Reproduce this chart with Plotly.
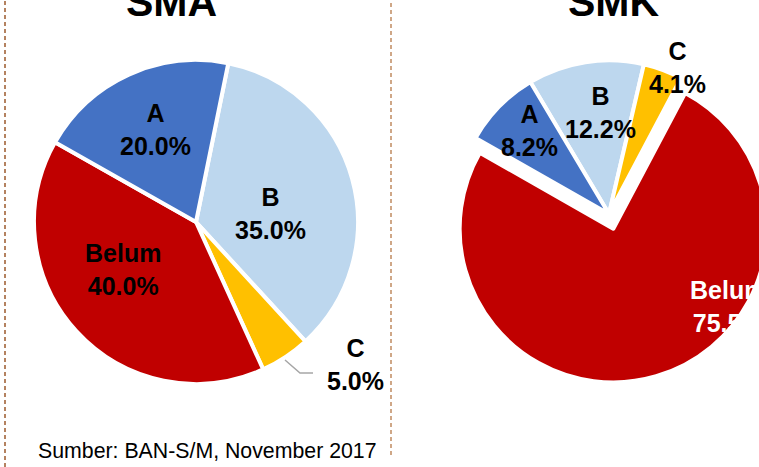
import math
import plotly.graph_objects as go

# ---- data ----
labels = ["B", "C", "Belum", "A"]
sma_values = [35.0, 5.0, 40.0, 20.0]
smk_values = [12.2, 4.1, 75.5, 8.2]
slice_colors = ["#BDD7EE", "#FFC000", "#C00000", "#4472C4"]
titles = ["SMA", "SMK"]
source_text = "Sumber: BAN-S/M, November 2017"

W, H = 800, 467
FONT = "Liberation Sans, Arial, sans-serif"


def px_x(x):
    return x / W


def px_y(y):
    return 1 - y / H


pies = [
    dict(values=sma_values, rotation=11.5, pull=[0, 0, 0, 0],
         box=(34, 60, 358, 384), text_colors=["black"] * 4,
         lab_r=[0.46, 1.32, 0.54, 0.62], lab_off=[9, -14.6, 9.5, 1]),
    dict(values=smk_values, rotation=-30.8, pull=[0, 0, 0.1, 0],
         box=(440, 45, 778, 383), text_colors=["black", "black", "white", "black"],
         lab_r=[0.66, 1.05, 0.9, 0.75], lab_off=[3.8, 4.5, -39.8, 2]),
]

fig = go.Figure()
annotations = []

for p in pies:
    x0, y0, x1, y1 = p["box"]
    fig.add_trace(go.Pie(
        labels=labels, values=p["values"], sort=False, direction="clockwise",
        rotation=p["rotation"], pull=p["pull"],
        marker=dict(colors=slice_colors, line=dict(color="white", width=4)),
        textinfo="none",
        domain=dict(x=[px_x(x0), px_x(x1)], y=[px_y(y1), px_y(y0)]),
        showlegend=False, hoverinfo="skip",
    ))
    # label placement derived from the slice angles
    cx, cy = (x0 + x1) / 2, (y0 + y1) / 2
    r = min(x1 - x0, y1 - y0) / 2 / (1 + max(p["pull"]))
    total = sum(p["values"])
    cum = 0
    for i, v in enumerate(p["values"]):
        mid = p["rotation"] + (cum + v / 2) / total * 360
        cum += v
        a = math.radians(mid)
        px = cx + p["pull"][i] * r * math.sin(a)
        py = cy - p["pull"][i] * r * math.cos(a)
        b = math.radians(mid + p["lab_off"][i])
        px += p["lab_r"][i] * r * math.sin(b)
        py -= p["lab_r"][i] * r * math.cos(b)
        pct = v / total * 100
        annotations.append(dict(
            text="<b>%s</b><br><b>%.1f%%</b>" % (labels[i], pct),
            x=px_x(px), y=px_y(py), xref="paper", yref="paper",
            xanchor="center", yanchor="middle", showarrow=False,
            font=dict(family=FONT, size=25, color=p["text_colors"][i]),
        ))

annotations += [
    dict(text="<b>%s</b>" % titles[0], x=px_x(171), y=px_y(27), xref="paper", yref="paper",
         xanchor="center", yanchor="bottom", showarrow=False,
         font=dict(family=FONT, size=41, color="black")),
    dict(text="<b>%s</b>" % titles[1], x=px_x(614), y=px_y(27), xref="paper", yref="paper",
         xanchor="center", yanchor="bottom", showarrow=False,
         font=dict(family=FONT, size=41, color="black")),
    dict(text=source_text, x=px_x(207.5), y=px_y(451), xref="paper", yref="paper",
         xanchor="center", yanchor="middle", showarrow=False,
         font=dict(family=FONT, size=21.3, color="black")),
]

shapes = [
    dict(type="line", xref="paper", yref="paper", x0=px_x(5), x1=px_x(5), y0=0, y1=1,
         line=dict(color="#9C5A2C", width=1.5, dash="4px,3px")),
    dict(type="line", xref="paper", yref="paper", x0=px_x(391), x1=px_x(391), y0=px_y(455), y1=1,
         line=dict(color="#C08A60", width=1.5, dash="4px,3px")),
    dict(type="path", xref="paper", yref="paper",
         path="M %f,%f L %f,%f L %f,%f" % (px_x(285), px_y(360), px_x(300), px_y(373), px_x(313), px_y(373)),
         line=dict(color="#A6A6A6", width=1.5)),
]

fig.update_layout(
    width=W, height=H,
    margin=dict(l=0, r=0, t=0, b=0, pad=0, autoexpand=False),
    paper_bgcolor="white", plot_bgcolor="white",
    annotations=annotations, shapes=shapes,
    showlegend=False,
)

fig.write_html(
    "out.html",
    post_script="document.body.style.overflow='hidden';document.documentElement.style.overflow='hidden';",
)
